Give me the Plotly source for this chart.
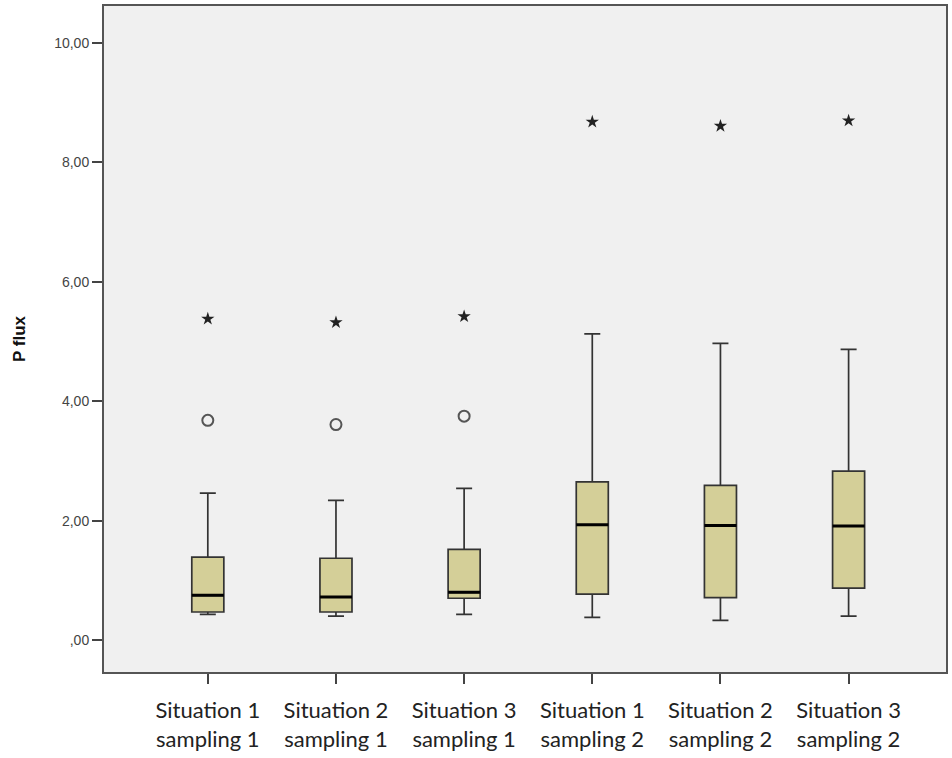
import plotly.graph_objects as go

categories = ["Situation 1<br>sampling 1", "Situation 2<br>sampling 1", "Situation 3<br>sampling 1",
              "Situation 1<br>sampling 2", "Situation 2<br>sampling 2", "Situation 3<br>sampling 2"]
lower_whisker = [0.43, 0.40, 0.43, 0.38, 0.33, 0.40]
q1_values = [0.47, 0.47, 0.70, 0.77, 0.71, 0.87]
median_values = [0.75, 0.72, 0.80, 1.93, 1.92, 1.91]
q3_values = [1.39, 1.37, 1.52, 2.65, 2.59, 2.83]
upper_whisker = [2.46, 2.34, 2.54, 5.13, 4.97, 4.87]

circle_cats = categories[:3]
circle_values = [3.68, 3.61, 3.75]
star_cats = categories
star_values = [5.38, 5.32, 5.42, 8.68, 8.61, 8.70]

y_tickvals = [0, 2, 4, 6, 8, 10]
y_ticktext = [",00", "2,00", "4,00", "6,00", "8,00", "10,00"]

fig = go.Figure()
fig.add_trace(go.Box(
    x=categories, q1=q1_values, median=median_values, q3=q3_values,
    lowerfence=lower_whisker, upperfence=upper_whisker,
    fillcolor="#D4CF98", line=dict(color="#333333", width=1.7),
    width=0.25, whiskerwidth=0.5, boxpoints=False, hoverinfo="skip",
))
# thick median lines
fig.add_trace(go.Box(
    x=categories, q1=median_values, median=median_values, q3=median_values,
    lowerfence=median_values, upperfence=median_values,
    fillcolor="rgba(0,0,0,0)", line=dict(color="#000000", width=3),
    width=0.25, whiskerwidth=1, boxpoints=False, hoverinfo="skip",
))
fig.add_trace(go.Scatter(
    x=circle_cats, y=circle_values, mode="markers",
    marker=dict(symbol="circle-open", size=11, color="#555555", line=dict(width=2, color="#555555")),
))
fig.add_trace(go.Scatter(
    x=star_cats, y=star_values, mode="markers",
    marker=dict(symbol="star", size=10, color="#222222", line=dict(width=0)),
))

fig.update_layout(
    width=952, height=758,
    margin=dict(l=104, r=4, t=6, b=86),
    paper_bgcolor="white", plot_bgcolor="#F0F0F0",
    showlegend=False,
    xaxis=dict(
        type="category", range=[-0.81, 5.76],
        showline=True, mirror=True, linecolor="#555555", linewidth=2,
        ticks="outside", ticklen=10, tickcolor="#444444", tickwidth=1.5,
        showgrid=False, zeroline=False, ticklabelstandoff=8,
        tickfont=dict(family="Lato", size=22, color="#222222"),
    ),
    yaxis=dict(
        range=[-0.535, 10.62],
        tickvals=y_tickvals, ticktext=y_ticktext,
        showline=True, mirror=True, linecolor="#555555", linewidth=2,
        ticks="outside", ticklen=10, tickcolor="#444444", tickwidth=1.5,
        showgrid=False, zeroline=False,
        tickfont=dict(family="Liberation Sans", size=14, color="#444444"),
        title=dict(text="<b>P flux</b>", font=dict(family="Liberation Sans", size=17, color="#111111"), standoff=24),
    ),
)

fig.write_html("out.html", config={"displayModeBar": False},
               post_script="document.body.style.margin='0px';")
